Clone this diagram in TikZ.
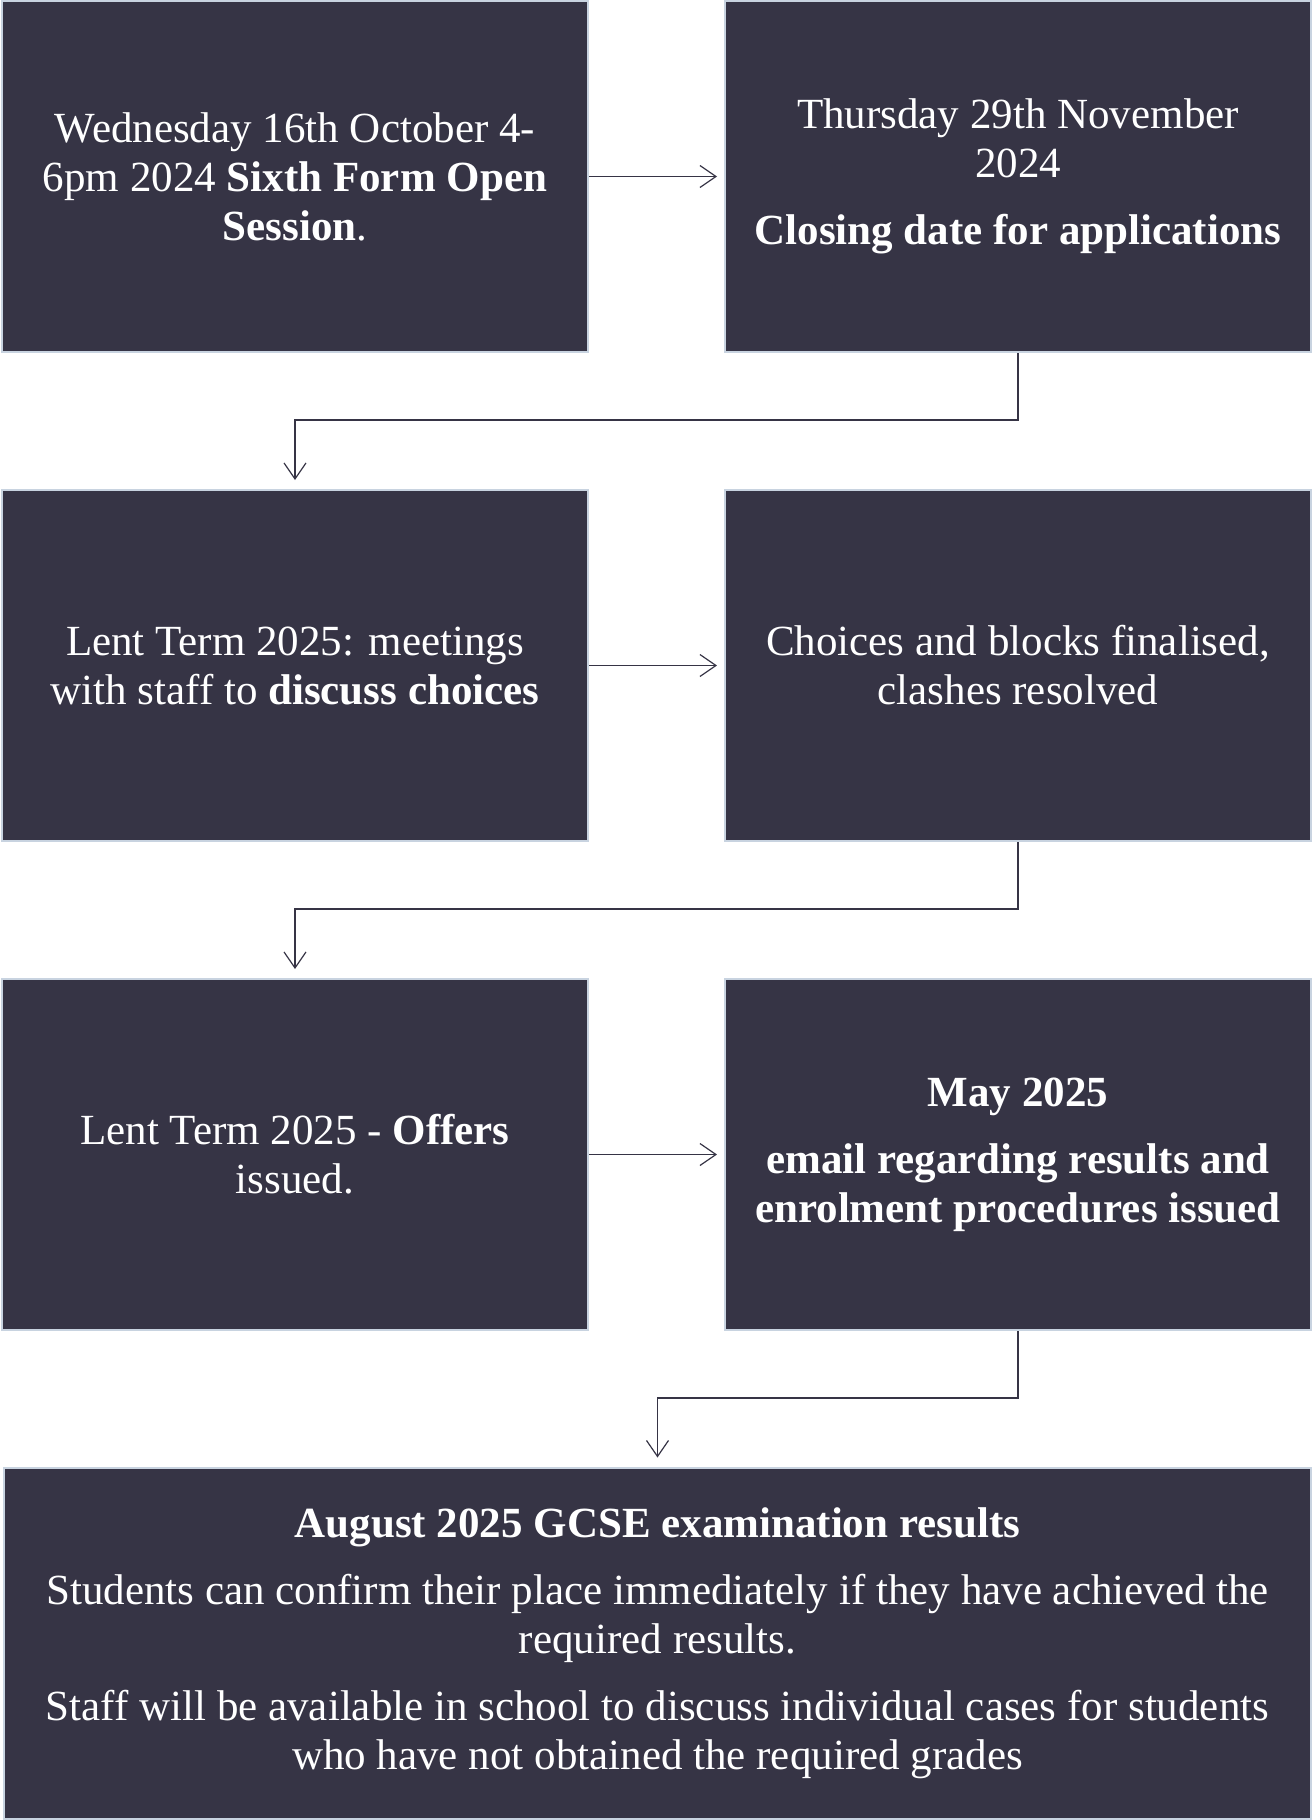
\documentclass[tikz,border=0pt]{standalone}
\usepackage{fontspec}
\setmainfont{Liberation Serif}
\usetikzlibrary{arrows.meta}
\definecolor{boxfill}{HTML}{363445}
\definecolor{boxline}{HTML}{C8D3E0}
\tikzset{
  stepbox/.style={draw=boxline, line width=1pt, fill=boxfill, text=white,
    minimum width=293pt, minimum height=175.5pt, inner sep=0pt, align=center,
    font=\fontsize{21.5}{24.5}\selectfont},
  conn/.style={draw=boxfill, line width=0.6pt, -{Straight Barb[length=8pt,width=11pt,line width=0.6pt]}}
}
\begin{document}
\begin{tikzpicture}[x=0.5pt,y=-0.5pt]
\useasboundingbox (0,0) rectangle (1312,1820);
\node[stepbox] (b1) at (295,176.5) {Wednesday 16th October 4-\\6pm 2024 \textbf{Sixth Form Open}\\\textbf{Session}.};
\node[stepbox] (b2) at (1018,176.5) {Thursday 29th November\\2024\\[9pt]\textbf{Closing date for applications}};
\node[stepbox] (b3) at (295,665.5) {Lent Term 2025: meetings\\with staff to \textbf{discuss choices}};
\node[stepbox] (b4) at (1018,665.5) {Choices and blocks finalised,\\clashes resolved};
\node[stepbox] (b5) at (295,1154.5) {Lent Term 2025 - \textbf{Offers}\\issued.};
\node[stepbox] (b6) at (1018,1154.5) {\textbf{May 2025}\\[9pt]\textbf{email regarding results and}\\\textbf{enrolment procedures issued}};
\node[stepbox, minimum width=653.5pt] (b7) at (657.5,1643) {\textbf{August 2025 GCSE examination results}\\[9pt]Students can confirm their place immediately if they have achieved the\\required results.\\[9pt]Staff will be available in school to discuss individual cases for students\\who have not obtained the required grades};
\draw[conn, shorten >=3.5pt] (b1) -- (b2);
\draw[conn, shorten >=3.5pt] (b3) -- (b4);
\draw[conn, shorten >=3.5pt] (b5) -- (b6);
\draw[conn, shorten >=4.5pt] (b2.south) -- ++(0,67) -| (b3.north);
\draw[conn, shorten >=4.5pt] (b4.south) -- ++(0,67) -| (b5.north);
\draw[conn, shorten >=4.5pt] (b6.south) -- ++(0,67) -| (b7.north);
\end{tikzpicture}
\end{document}
